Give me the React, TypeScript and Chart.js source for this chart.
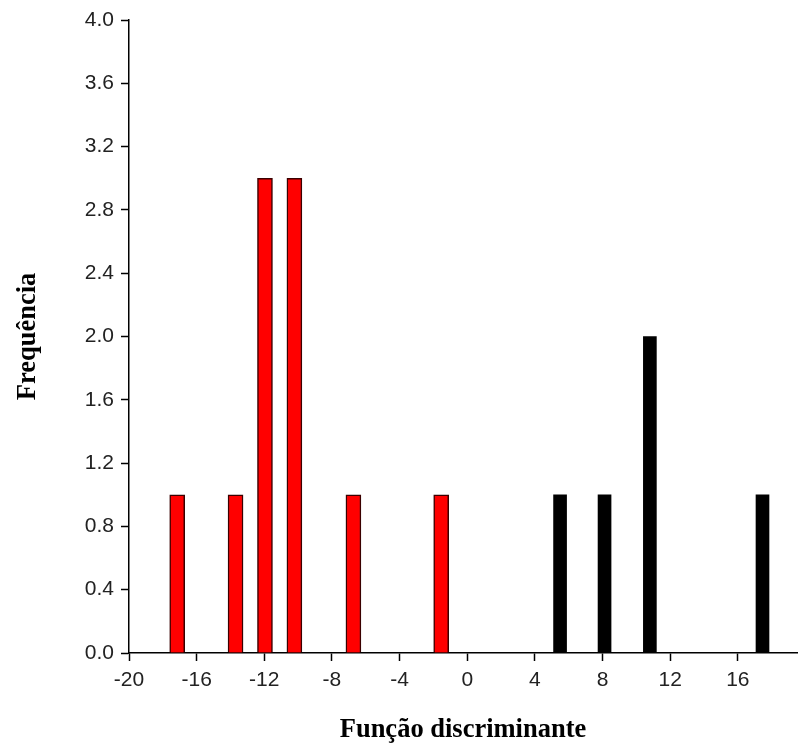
import React, { useEffect, useRef } from "react";
import { Chart, registerables } from "chart.js";

Chart.register(...registerables);

const redX = [-17.15, -13.7, -11.96, -10.22, -6.73, -1.54];
const redY = [1, 1, 3, 3, 1, 1];
const blackX = [5.49, 8.12, 10.8, 17.46];
const blackY = [1, 1, 2, 1];
const xTickLabels = ["-20", "-16", "-12", "-8", "-4", "0", "4", "8", "12", "16"];
const xTitle = "Função discriminante";
const yTitle = "Frequência";

export default function App() {
  const ref = useRef<HTMLCanvasElement | null>(null);
  useEffect(() => {
    if (!ref.current) return;
    const tickFont = { family: "'Liberation Sans', Arial, sans-serif", size: 21 };
    const titleFont = { family: "'Liberation Serif', 'Times New Roman', serif", size: 26.5, weight: "bold" as const };
    const chart = new Chart(ref.current, {
      type: "bar",
      data: {
        datasets: [
          {
            data: redX.map((x, i) => ({ x, y: redY[i] })),
            backgroundColor: "#ff0000",
            borderColor: "#3a0000",
            borderWidth: 1.5,
            barThickness: 15,
            grouped: false,
          } as any,
          {
            data: blackX.map((x, i) => ({ x, y: blackY[i] })),
            backgroundColor: "#000000",
            borderWidth: 0,
            barThickness: 13,
            grouped: false,
          } as any,
        ],
      },
      options: {
        animation: false,
        responsive: false,
        maintainAspectRatio: false,
        layout: { padding: { top: 20, right: 1, left: 0, bottom: 0 } },
        plugins: { legend: { display: false }, tooltip: { enabled: false } },
        scales: {
          x: {
            type: "linear",
            min: -20,
            max: 19.5,
            offset: false,
            afterFit: (s: any) => { s.height = 94; },
            ticks: {
              stepSize: 4,
              includeBounds: false,
              font: tickFont,
              color: "#222",
              padding: 7,
              maxRotation: 0,
              callback: (v: any) => {
                const idx = xTickLabels.indexOf(String(v));
                return idx >= 0 ? xTickLabels[idx] : "";
              },
            },
            grid: { display: true, offset: false, drawOnChartArea: false, drawTicks: true, tickLength: 8, color: "#000", tickWidth: 1.5 },
            border: { display: true, color: "#000", width: 1.5 },
            title: { display: true, text: xTitle, font: titleFont, color: "#000", padding: { top: 0, bottom: 1 } },
          },
          y: {
            type: "linear",
            min: 0,
            max: 4,
            afterFit: (s: any) => { s.width = 129; },
            ticks: {
              stepSize: 0.4,
              font: tickFont,
              color: "#222",
              padding: 7,
              callback: (v: any) => Number(v).toFixed(1),
            },
            grid: { display: true, drawOnChartArea: false, drawTicks: true, tickLength: 8, color: "#000", tickWidth: 1.5 },
            border: { display: true, color: "#000", width: 1.5 },
            title: { display: true, text: yTitle, font: titleFont, color: "#000", padding: { top: 12, bottom: 0 } },
          },
        },
      },
    });
    return () => chart.destroy();
  }, []);
  return (
    <div style={{ position: "fixed", left: 0, top: 0, width: 798, height: 747, background: "#fff" }}>
      <canvas ref={ref} width={798} height={747} style={{ width: 798, height: 747, display: "block" }} />
    </div>
  );
}
